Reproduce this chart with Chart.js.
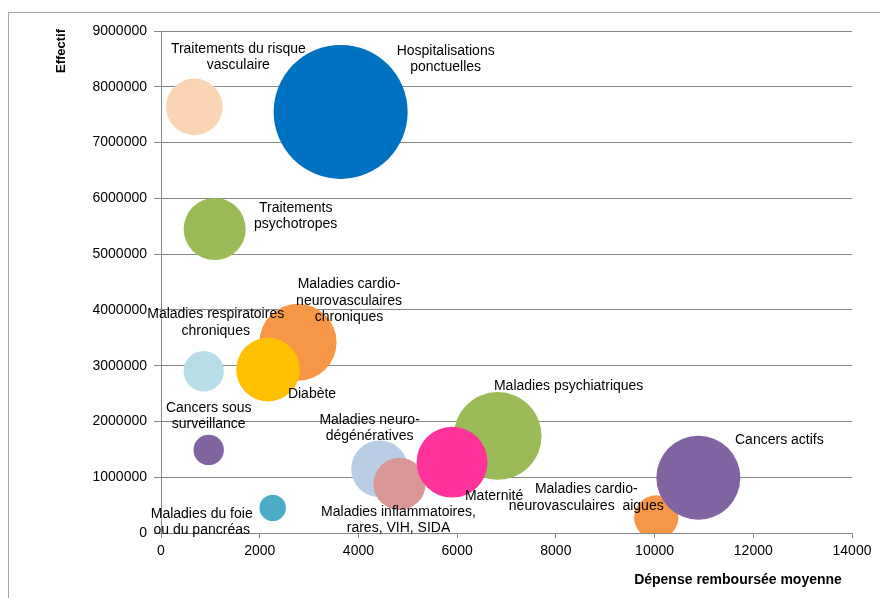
<!DOCTYPE html>
<html>
<head>
<meta charset="utf-8">
<script src="https://cdn.jsdelivr.net/npm/chart.js@4.4.1/dist/chart.umd.min.js"></script>
<style>
  body { margin: 0; background: #fff; overflow: hidden; }
  #cadre { position: absolute; left: 8px; top: 12px; width: 900px; height: 620px; border: 1px solid #a6a6a6; }
  #myChart { position: absolute; left: 0; top: 0; }
</style>
</head>
<body>
<div id="cadre"></div>
<canvas id="myChart" width="880" height="598"></canvas>
<script>
// groupes de pathologies (ordre de dessin, du fond vers le dessus)
const categories = [
  'Hospitalisations\nponctuelles',
  'Traitements du risque\nvasculaire',
  'Traitements\npsychotropes',
  'Maladies cardio-\nneurovasculaires\nchroniques',
  'Diabète',
  'Maladies respiratoires\nchroniques',
  'Cancers sous\nsurveillance',
  'Maladies du foie\nou du pancréas',
  'Maladies neuro-\ndégénératives',
  'Maladies inflammatoires,\nrares, VIH, SIDA',
  'Maladies psychiatriques',
  'Maternité',
  'Maladies cardio-\nneurovasculaires  aigues',
  'Cancers actifs'
];
// dépense remboursée moyenne (€)
const depenseMoyenne = [3640, 675, 1088, 2776, 2168, 865, 966, 2263, 4429, 4832, 6821, 5898, 10034, 10887];
// effectif (patients)
const effectif = [7550000, 7640000, 5450000, 3420000, 2930000, 2900000, 1490000, 450000, 1150000, 880000, 1740000, 1270000, 280000, 990000];
// dépense totale (Md€) -> taille des bulles
const depenseTotale = [27.5, 4.9, 5.9, 9.1, 6.2, 2.5, 1.42, 1.07, 4.95, 4.16, 11.8, 7.7, 3.0, 10.8];

const xTicks = [0, 2000, 4000, 6000, 8000, 10000, 12000, 14000];
const yTicks = [0, 1000000, 2000000, 3000000, 4000000, 5000000, 6000000, 7000000, 8000000, 9000000];

const couleurs = ['#0070c0', '#fbd4b4', '#9bbb59', '#f79646', '#ffc000', '#b7dee8', '#8064a2',
  '#4bacc6', '#b9cde5', '#d99694', '#9bbb59', '#ff3399', '#f79646', '#8064a2'];
// position des étiquettes par rapport au centre de la bulle (px)
const decalages = [[105, -61], [44, -58], [81, -21], [51, -58], [44, 25], [12, -57], [0, -42],
  [-71, 6], [-10, -49], [-1, 28], [71, -50], [42, 34], [-70, -28], [81, -38]];

const rMax = 67;
const vMax = Math.max(...depenseTotale);

const points = categories.map((c, i) => ({
  x: depenseMoyenne[i],
  y: effectif[i],
  r: rMax * Math.sqrt(depenseTotale[i] / vMax)
}));

const gris = '#868686';
const police = '"Liberation Sans", Arial, sans-serif';

// étiquettes et titres d'axes
const etiquettes = {
  id: 'etiquettes',
  afterDatasetsDraw(chart) {
    const ctx = chart.ctx;
    const meta = chart.getDatasetMeta(0);
    ctx.save();
    ctx.fillStyle = '#000';
    ctx.font = '14px ' + police;
    ctx.textAlign = 'center';
    ctx.textBaseline = 'middle';
    meta.data.forEach((el, i) => {
      const lignes = categories[i].split('\n');
      lignes.forEach((l, k) => {
        ctx.fillText(l, el.x + decalages[i][0], el.y + decalages[i][1] + k * 16.5);
      });
    });
    // titre axe x
    ctx.font = 'bold 14px ' + police;
    ctx.fillText('Dépense remboursée moyenne', 738, 580, 212);
    // titre axe y
    ctx.font = 'bold 13px ' + police;
    ctx.translate(61, 51);
    ctx.rotate(-Math.PI / 2);
    ctx.fillText('Effectif', 0, 0);
    ctx.restore();
  }
};

const config = {
  type: 'bubble',
  data: {
    datasets: [{
      data: points,
      backgroundColor: couleurs,
      borderWidth: 0,
      hoverBorderWidth: 0,
      hoverRadius: 0
    }]
  },
  options: {
    responsive: false,
    animation: false,
    devicePixelRatio: 1,
    layout: { autoPadding: false, padding: { top: 31, right: 28, left: 0, bottom: 0 } },
    plugins: { legend: { display: false }, tooltip: { enabled: false } },
    scales: {
      x: {
        type: 'linear',
        min: 0,
        max: 14000,
        afterFit: (s) => { s.height = 65; },
        afterBuildTicks: (s) => { s.ticks = xTicks.map(v => ({ value: v })); },
        grid: { drawOnChartArea: false, color: gris, tickLength: 5 },
        border: { color: gris },
        ticks: { color: '#000', font: { size: 14, family: police }, padding: 5, callback: v => String(v) }
      },
      y: {
        type: 'linear',
        min: 0,
        max: 9000000,
        afterFit: (s) => { s.width = 161; },
        afterBuildTicks: (s) => { s.ticks = yTicks.map(v => ({ value: v })); },
        grid: { color: gris, tickLength: 7 },
        border: { color: gris },
        ticks: { color: '#000', font: { size: 14, family: police }, padding: 7, callback: v => String(v) }
      }
    }
  },
  plugins: [etiquettes]
};

const canvas = document.getElementById('myChart');
if (canvas) {
  new Chart(canvas, config);
} else {
  console.error('Canvas element not found');
}
</script>
</body>
</html>
